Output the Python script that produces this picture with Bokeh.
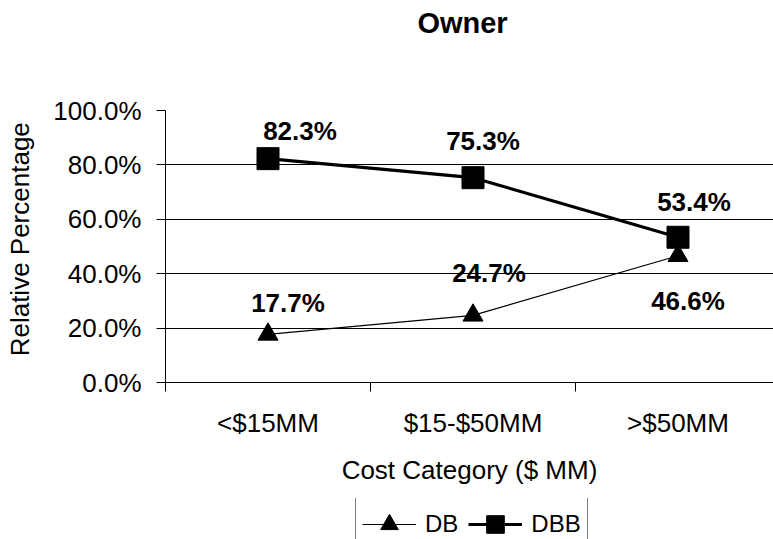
from bokeh.plotting import figure
from bokeh.layouts import column
from bokeh.models import (Range1d, FixedTicker, Legend, LegendItem, Label,
                          ColumnDataSource)
from bokeh.embed import file_html
from bokeh.resources import INLINE
from bokeh.core.properties import value

# ---- data -------------------------------------------------------------
categories = ["<$15MM", "$15-$50MM", ">$50MM"]
db_values = [17.7, 24.7, 46.6]
dbb_values = [82.3, 75.3, 53.4]
y_ticks = [0, 20, 40, 60, 80, 100]
y_tick_labels = ["0.0%", "20.0%", "40.0%", "60.0%", "80.0%", "100.0%"]

# value-label nudges in pixels (x to the right, y downward)
db_label_dx = [20, 16, 10]
db_label_dy = [-31, -42, 45]
dbb_label_dx = [32, 10, 16]
dbb_label_dy = [-28, -37, -35]

# ---- layout -------------------------------------------------------------
FONT = "Liberation Sans"
W = 773
TITLE_H, LEGEND_H = 50, 41
CHART_BOTTOM = 498                  # where the legend strip begins
LEFT, TOP, BOTTOM = 165, 110, 382   # plot frame edges on the page
CAT_PX = 205                        # pixel width of one category slot
MAIN_H = CHART_BOTTOM - TITLE_H

x_pos = [i + 0.5 for i in range(len(categories))]
bounds = list(range(len(categories) + 1))


def strip(height):
    """Blank figure used as a text band; its frame lines up with the chart's."""
    f = figure(width=W, height=height, output_backend="svg",
               toolbar_location=None, min_border=0,
               x_range=Range1d(0, W - LEFT), y_range=Range1d(height, 0))
    f.axis.visible = False
    f.grid.visible = False
    f.outline_line_color = None
    f.background_fill_color = "white"
    f.border_fill_color = "white"
    return f


# ---- title band -----------------------------------------------------------
tf = strip(TITLE_H)
tf.add_layout(Label(x=462 - LEFT, y=22, text="Owner", text_font=FONT,
                    text_font_size="29px", text_font_style="bold",
                    text_color="black", text_align="center",
                    text_baseline="alphabetic"))

# ---- main chart -----------------------------------------------------------
p = figure(width=W, height=MAIN_H, output_backend="svg", toolbar_location=None,
           x_range=Range1d(0, (W - LEFT) / CAT_PX), y_range=Range1d(0, 100),
           min_border_left=LEFT, min_border_right=0,
           min_border_top=TOP - TITLE_H,
           min_border_bottom=CHART_BOTTOM - BOTTOM, title=None)
p.outline_line_color = None
p.background_fill_color = "white"
p.border_fill_color = "white"

# grid
p.xgrid.visible = False
p.ygrid.ticker = FixedTicker(ticks=y_ticks)
p.ygrid.grid_line_color = "black"
p.ygrid.grid_line_width = 1

# y axis
yax = p.yaxis[0]
yax.ticker = FixedTicker(ticks=y_ticks)
yax.major_label_overrides = dict(zip(y_ticks, y_tick_labels))
yax.axis_line_color = "black"
yax.major_tick_line_color = "black"
yax.major_tick_in = 0
yax.major_tick_out = 9
yax.minor_tick_line_color = None
yax.major_label_text_font = FONT
yax.major_label_text_font_size = "26px"
yax.major_label_text_color = "black"
yax.major_label_standoff = 15
yax.axis_label = "\u00a0\u00a0Relative Percentage"
yax.axis_label_text_font = FONT
yax.axis_label_text_font_size = "26px"
yax.axis_label_text_font_style = "normal"
yax.axis_label_text_color = "black"
yax.axis_label_standoff = 15

# x axis: labels centred in each slot, tick marks on the slot boundaries
xax = p.xaxis[0]
xax.ticker = FixedTicker(ticks=x_pos, minor_ticks=bounds)
xax.major_label_overrides = dict(zip(x_pos, categories))
xax.axis_line_color = "black"
xax.major_tick_line_color = None
xax.major_tick_in = 0
xax.major_tick_out = 9
xax.minor_tick_line_color = "black"
xax.minor_tick_in = 0
xax.minor_tick_out = 9
xax.major_label_text_font = FONT
xax.major_label_text_font_size = "26px"
xax.major_label_text_color = "black"
xax.major_label_standoff = 16
xax.axis_label = "Cost Category ($ MM)"
xax.axis_label_text_font = FONT
xax.axis_label_text_font_size = "26px"
xax.axis_label_text_font_style = "normal"
xax.axis_label_text_color = "black"
xax.axis_label_standoff = 14

# ---- series -------------------------------------------------------------
def fmt(vals):
    return [f"{v:.1f}%" for v in vals]

src_db = ColumnDataSource(dict(x=x_pos, y=db_values, label=fmt(db_values),
                               dx=db_label_dx, dy=db_label_dy))
src_dbb = ColumnDataSource(dict(x=x_pos, y=dbb_values, label=fmt(dbb_values),
                                dx=dbb_label_dx, dy=dbb_label_dy))

DB_STYLE = dict(line_color="black", line_width=1.2)
DBB_STYLE = dict(line_color="black", line_width=3.2)
DB_MARK = dict(marker="triangle", size=20, fill_color="black", line_color="black")
DBB_MARK = dict(marker="square", size=22, fill_color="black", line_color="black")

p.line("x", "y", source=src_db, **DB_STYLE)
p.scatter("x", "y", source=src_db, **DB_MARK)
p.line("x", "y", source=src_dbb, **DBB_STYLE)
p.scatter("x", "y", source=src_dbb, **DBB_MARK)

for src in (src_db, src_dbb):
    p.text("x", "y", text="label", x_offset="dx", y_offset="dy", source=src,
           text_font=value(FONT), text_font_style="bold",
           text_font_size="26px", text_color="black",
           text_align="center", text_baseline="alphabetic")

# ---- legend band ----------------------------------------------------------
# Key renderers share the series sources but sit outside the band's ranges,
# so only the legend keys are seen.
lf = strip(LEGEND_H)
lf.x_range = Range1d(-20, -19)
lf.y_range = Range1d(-20, -19)
k_db = [lf.line("x", "y", source=src_db, **DB_STYLE),
        lf.scatter("x", "y", source=src_db, **DB_MARK)]
k_dbb = [lf.line("x", "y", source=src_dbb, **DBB_STYLE),
         lf.scatter("x", "y", source=src_dbb, **DBB_MARK)]

legend = Legend(items=[LegendItem(label="DB", renderers=k_db, index=0),
                       LegendItem(label="DBB", renderers=k_dbb, index=0)],
                orientation="horizontal",
                location=(355 - LEFT, -14),
                margin=0, padding=6, spacing=10, label_standoff=9,
                glyph_width=54, glyph_height=44,
                label_text_font=FONT, label_text_font_size="24px",
                label_text_color="black",
                border_line_color="black", border_line_width=1,
                background_fill_color="white", background_fill_alpha=1.0)
lf.add_layout(legend)

layout = column(tf, p, lf, spacing=0)
open("out.html", "w").write(file_html(layout, INLINE))
